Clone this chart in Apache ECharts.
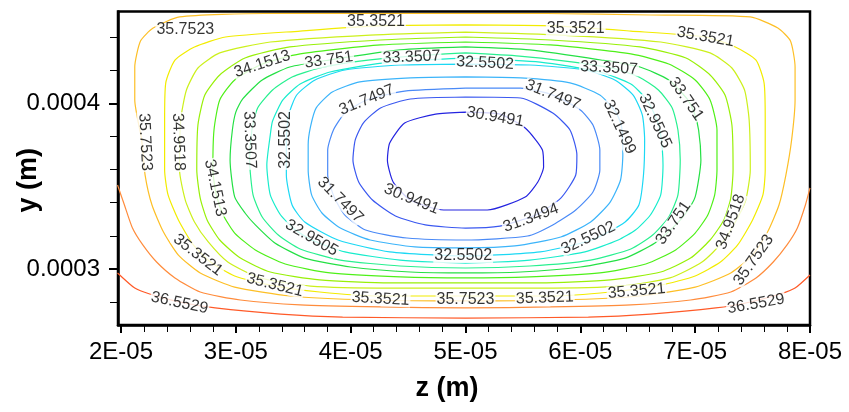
<!DOCTYPE html>
<html>
<head>
<meta charset="utf-8">
<style>html,body{margin:0;padding:0;background:#fff}#chart{width:849px;height:412px}</style>
<script src="https://cdn.jsdelivr.net/npm/echarts@6/dist/echarts.min.js"></script>
</head>
<body>
<div id="chart"></div>
<script>
// values stored in micrometres, converted to metres for the axes
const UM = 1e-6;

const xTickValues = [20, 30, 40, 50, 60, 70, 80];
const xTickLabels = ['2E-05', '3E-05', '4E-05', '5E-05', '6E-05', '7E-05', '8E-05'];
const xMinorTicks = [22,24,26,28,32,34,36,38,42,44,46,48,52,54,56,58,62,64,66,68,72,74,76,78];
const yTickValues = [300, 400];
const yTickLabels = ['0.0003', '0.0004'];
const yMinorTicks = [280, 320, 340, 360, 380, 420, 440];

const levels = [30.9491, 31.3494, 31.7497, 32.1499, 32.5502, 32.9505, 33.3507, 33.751, 34.1513, 34.5515, 34.9518, 35.3521, 35.7523, 36.1526, 36.5529];

// contour polylines [z (um), y (um)]
const c30_9491 = [[50.0,394.7],[53.0,393.5],[55.2,385.1],[56.7,371.8],[56.8,361.6],[56.3,352.5],[55.2,343.5],[51.9,335.6],[48.1,335.6],[45.2,341.6],[43.7,352.5],[43.2,365.8],[43.4,376.0],[44.7,388.1],[47.4,393.5],[50.0,394.7]];
const c31_3494 = [[50.0,403.8],[54.8,403.2],[57.6,394.1],[59.1,383.9],[59.7,368.8],[59.6,356.7],[58.3,342.8],[56.1,332.6],[53.0,325.9],[50.0,324.7],[46.5,326.6],[43.9,332.0],[41.9,341.6],[40.7,352.5],[40.2,365.8],[40.4,377.9],[41.1,388.1],[42.6,397.2],[45.2,402.6],[50.0,403.8]];
const c31_7497 = [[50.0,409.2],[54.8,409.2],[57.6,405.0],[60.0,396.0],[61.1,386.9],[61.7,371.8],[61.7,359.7],[61.1,346.5],[59.6,335.6],[57.6,326.6],[55.4,319.9],[50.0,317.5],[44.9,318.7],[41.3,323.5],[39.5,332.6],[38.6,342.8],[38.0,356.7],[38.0,371.8],[38.5,383.9],[39.5,394.1],[41.4,402.0],[44.7,407.4],[50.0,409.2]];
const c32_1499 = [[50.0,415.9],[54.8,415.3],[59.1,412.3],[61.7,405.0],[63.1,394.7],[63.6,385.7],[63.7,368.8],[63.5,353.7],[62.6,340.4],[60.9,328.4],[58.3,319.3],[54.3,313.9],[50.0,312.7],[45.6,313.3],[41.7,317.5],[39.1,324.7],[37.5,333.8],[36.6,344.7],[36.3,359.7],[36.3,374.8],[36.5,385.7],[37.0,397.2],[38.4,406.8],[40.8,412.9],[45.2,415.3],[50.0,415.9]];
const c32_5502 = [[50.0,423.7],[55.6,423.1],[60.4,420.1],[63.0,414.1],[64.6,405.0],[65.4,392.9],[65.6,377.9],[65.5,356.7],[65.1,338.6],[63.9,328.4],[61.0,317.5],[56.5,310.3],[50.0,307.8],[43.4,310.3],[38.9,317.5],[36.0,328.4],[34.9,338.6],[34.4,356.7],[34.4,377.9],[34.6,392.9],[35.3,405.0],[36.9,414.1],[39.5,420.1],[44.3,423.1],[50.0,423.7]];
const c32_9505 = [[50.0,427.3],[56.5,424.9],[61.7,418.9],[64.4,411.6],[65.8,402.0],[66.7,389.3],[67.0,380.9],[67.2,362.8],[67.0,344.7],[66.1,332.6],[64.8,323.5],[63.3,317.5],[60.4,310.3],[55.6,305.4],[50.0,303.6],[44.3,305.4],[39.5,310.3],[36.6,317.5],[35.2,323.5],[33.9,332.6],[33.0,344.7],[32.7,362.8],[33.0,380.9],[33.2,389.3],[34.1,402.0],[35.6,411.6],[38.2,418.9],[43.4,424.9],[50.0,427.3]];
const c33_3507 = [[50.0,430.4],[54.7,428.5],[58.7,425.5],[62.7,421.3],[65.1,415.9],[66.8,408.0],[68.0,397.2],[68.5,383.9],[68.7,365.8],[68.5,344.7],[67.7,331.4],[66.3,320.5],[64.4,312.1],[60.9,305.4],[55.6,301.8],[50.0,300.6],[44.3,301.8],[39.1,305.4],[35.6,312.1],[33.7,320.5],[32.3,331.4],[31.5,344.7],[31.2,365.8],[31.4,383.9],[31.9,397.2],[33.2,408.0],[34.9,415.9],[37.3,421.3],[40.8,425.5],[45.3,428.5],[50.0,430.4]];
const c33_751 = [[50.0,434.0],[55.6,432.2],[61.8,426.1],[65.2,421.9],[67.7,414.1],[69.3,402.6],[69.9,394.7],[70.3,383.9],[70.5,365.8],[70.0,343.5],[69.2,333.8],[68.3,326.6],[66.5,315.7],[63.9,306.6],[60.0,301.2],[54.8,298.2],[50.0,297.6],[45.2,298.2],[40.0,301.2],[36.0,306.6],[33.4,315.7],[31.7,326.6],[30.8,333.8],[29.9,343.5],[29.5,365.8],[29.7,383.9],[30.0,394.7],[30.6,402.6],[32.3,414.1],[34.7,421.9],[38.1,426.1],[44.3,432.2],[50.0,434.0]];
const c34_1513 = [[50.0,437.0],[57.4,435.2],[64.4,429.8],[67.7,423.7],[70.0,414.1],[71.3,402.0],[71.9,383.9],[71.9,359.7],[71.7,344.7],[71.1,332.6],[70.0,321.7],[68.3,311.5],[65.7,303.0],[61.7,297.6],[55.6,295.2],[50.0,294.6],[44.3,295.2],[38.2,297.6],[34.3,303.0],[31.7,311.5],[29.9,321.7],[28.9,332.6],[28.3,344.7],[28.0,359.7],[28.1,383.9],[28.6,402.0],[29.9,414.1],[32.3,423.7],[35.6,429.8],[42.6,435.2],[50.0,437.0]];
const c34_5515 = [[50.0,440.0],[57.4,438.2],[65.2,434.0],[69.2,427.3],[71.3,417.1],[72.6,405.0],[73.2,386.9],[73.3,359.7],[73.1,342.8],[72.5,329.6],[71.3,317.5],[69.6,306.6],[67.0,298.2],[62.6,293.4],[56.5,291.6],[50.0,291.6],[43.4,291.6],[37.3,293.4],[33.0,298.2],[30.4,306.6],[28.6,317.5],[27.5,329.6],[26.9,342.8],[26.6,359.7],[26.7,386.9],[27.3,405.0],[28.6,417.1],[30.8,427.3],[34.7,434.0],[42.6,438.2],[50.0,440.0]];
const c34_9518 = [[50.0,443.0],[58.3,441.2],[67.0,437.0],[71.3,430.4],[73.2,421.3],[74.3,408.0],[74.7,389.9],[74.8,359.7],[74.4,341.6],[73.5,328.4],[72.4,316.3],[70.6,304.2],[67.8,294.6],[63.5,289.7],[56.5,288.5],[50.0,288.5],[43.4,288.5],[36.5,289.7],[32.1,294.6],[29.3,304.2],[27.6,316.3],[26.4,328.4],[25.6,341.6],[25.1,359.7],[25.2,389.9],[25.7,408.0],[26.7,421.3],[28.6,430.4],[33.0,437.0],[41.7,441.2],[50.0,443.0]];
const c35_3521 = [[50.0,447.3],[57.7,446.7],[64.4,443.6],[70.9,440.0],[73.5,434.0],[75.3,426.1],[76.0,412.3],[76.1,389.9],[76.1,359.7],[75.9,344.7],[75.0,329.6],[73.7,314.5],[72.2,304.2],[70.0,295.8],[67.0,290.3],[62.6,286.1],[57.4,283.7],[50.0,283.7],[42.6,283.7],[37.3,286.1],[33.0,290.3],[29.9,295.8],[27.8,304.2],[26.3,314.5],[25.0,329.6],[24.1,344.7],[23.8,359.7],[23.8,389.9],[23.9,412.3],[24.7,426.1],[26.4,434.0],[29.1,440.0],[35.6,443.6],[42.2,446.7],[50.0,447.3]];
const c35_7523 = [[50.0,454.2],[57.1,454.2],[66.1,453.3],[74.8,452.1],[77.2,445.4],[78.3,437.6],[78.7,421.9],[78.7,402.0],[78.4,377.9],[77.9,356.7],[77.3,338.6],[76.3,322.3],[75.0,308.4],[73.1,297.6],[70.0,289.1],[65.2,283.7],[58.3,281.3],[50.0,280.7],[41.7,281.3],[34.7,283.7],[29.9,289.1],[26.9,297.6],[25.0,308.4],[23.7,322.3],[22.7,338.6],[22.1,356.7],[21.8,377.9],[21.2,402.0],[21.2,421.9],[21.7,437.6],[22.8,445.4],[25.1,452.1],[32.5,454.2],[42.6,454.2],[50.0,454.2]];
const c36_1526 = [[19.7,350.7],[20.3,338.6],[21.0,324.7],[21.9,314.5],[23.1,304.2],[24.7,294.6],[26.9,286.1],[30.4,281.3],[35.6,278.3],[42.6,277.1],[50.0,276.5],[57.4,277.1],[64.4,278.3],[69.6,281.3],[73.1,286.1],[75.3,294.6],[76.8,304.2],[78.0,314.5],[78.9,324.7],[79.6,338.6],[80.0,348.9]];
const c36_5529 = [[19.7,297.6],[21.2,288.5],[22.5,284.9],[25.1,280.1],[28.2,276.5],[33.9,272.8],[39.3,271.0],[50.0,270.4],[60.7,271.0],[66.1,272.8],[71.8,276.5],[74.8,280.1],[77.4,284.9],[78.7,288.5],[80.0,296.4]];

const contours = [c30_9491, c31_3494, c31_7497, c32_1499, c32_5502, c32_9505, c33_3507, c33_751, c34_1513, c34_5515, c34_9518, c35_3521, c35_7523, c36_1526, c36_5529];

// contour labels
const labelTexts = ["35.7523","35.3521","35.3521","35.3521","34.1513","33.751","33.3507","32.5502","33.3507","31.7497","30.9491","31.7497","32.1499","32.9505","33.751","35.7523","34.9518","33.3507","32.5502","34.1513","31.7497","30.9491","32.9505","35.3521","35.3521","35.3521","36.5529","32.5502","35.7523","31.3494","32.5502","33.751","34.9518","35.7523","35.3521","35.3521","36.5529"];
const labelZ = [25.6,42.2,59.6,70.9,32.3,38.1,45.3,51.7,62.5,41.4,52.6,57.6,63.4,66.5,69.2,22.1,25.0,31.2,34.3,28.2,39.1,45.3,36.6,26.7,33.4,42.6,25.1,49.8,50.0,55.7,60.7,68.1,73.1,75.1,56.9,64.9,75.3];
const labelY = [444.2,449.1,444.8,440.0,423.7,426.1,427.9,424.3,421.3,402.0,391.7,405.0,385.7,389.3,402.6,376.6,376.6,377.9,377.9,348.9,341.6,342.2,318.7,308.4,290.3,281.9,279.5,307.8,281.3,330.8,318.7,327.8,328.4,305.4,282.5,286.7,278.9];
const labelAngles = [0,0,0,-10,18,8,2,-3,-3,22,-10,-22,-65,-65,-55,-87,-88,-88,90,-78,-45,-22,-30,-38,-14,-3,-12,0,0,20,25,55,70,55,2,5,10];

const levelColors = ['#2424e0','#3a58f0','#4a8af7','#3cb4fa','#1cd8f4','#18eccc','#28f090','#24e044','#4ef018','#98f008','#ccf01c','#f2ec00','#fdbf26','#ff8c3c','#ff5a28'];

const X_MIN = 19.74, X_MAX = 80.0, Y_MIN = 266.2, Y_MAX = 455.4;
const FONT = 'Liberation Sans';

function pickLabel(values, labels) {
  return function (v) {
    for (let i = 0; i < values.length; i++) {
      if (Math.abs(values[i] * UM - v) < 1e-9) return labels[i];
    }
    return '';
  };
}

const series = contours.map((pts, i) => ({
  type: 'line',
  name: String(levels[i]),
  xAxisIndex: 0, yAxisIndex: 0,
  data: pts.map(p => [p[0] * UM, p[1] * UM]),
  showSymbol: false, symbol: 'none',
  smooth: 0.2,
  clip: true,
  silent: true,
  z: 2,
  lineStyle: { color: levelColors[i], width: 1.2 }
}));

series.push({
  type: 'scatter',
  xAxisIndex: 0, yAxisIndex: 0,
  symbolSize: 1,
  itemStyle: { color: 'rgba(0,0,0,0)' },
  silent: true,
  z: 5,
  data: labelTexts.map((t, i) => ({
    name: t,
    value: [labelZ[i] * UM, labelY[i] * UM],
    label: { rotate: labelAngles[i] }
  })),
  label: {
    show: true, position: 'inside', formatter: '{b}',
    color: '#000', fontFamily: FONT, fontSize: 16,
    backgroundColor: '#fff', padding: [0, 1], lineHeight: 14
  }
});

const axisBase = { type: 'value', splitLine: { show: false } };

const option = {
  animation: false,
  backgroundColor: '#fff',
  grid: { left: 118, right: 39, top: 11.5, bottom: 87, containLabel: false, outerBoundsMode: 'none', show: true, borderColor: '#000', borderWidth: 2.5, backgroundColor: '#fff' },
  xAxis: [
    Object.assign({}, axisBase, {
      min: X_MIN * UM, max: X_MAX * UM, position: 'bottom',
      name: 'z (m)', nameLocation: 'middle', nameGap: 50, nameMoveOverlap: false,
      nameTextStyle: { fontFamily: FONT, fontWeight: 'bold', fontSize: 27, color: '#000', padding: [0, 34, 0, 0] },
      axisLine: { show: true, lineStyle: { color: '#000', width: 2.5 } },
      axisTick: { show: true, customValues: xTickValues.map(v => v * UM), length: 8, lineStyle: { color: '#000', width: 2 } },
      axisLabel: { show: true, customValues: xTickValues.map(v => v * UM), formatter: pickLabel(xTickValues, xTickLabels), margin: 15, fontFamily: FONT, fontSize: 24, color: '#000' }
    }),
    Object.assign({}, axisBase, {
      min: X_MIN * UM, max: X_MAX * UM, position: 'bottom',
      axisLine: { show: false },
      axisTick: { show: true, customValues: xMinorTicks.map(v => v * UM), length: 7, lineStyle: { color: '#000', width: 1 } },
      axisLabel: { show: false }
    })
  ],
  yAxis: [
    Object.assign({}, axisBase, {
      min: Y_MIN * UM, max: Y_MAX * UM, position: 'left',
      name: 'y (m)', nameLocation: 'middle', nameGap: 76, nameMoveOverlap: false,
      nameTextStyle: { fontFamily: FONT, fontWeight: 'bold', fontSize: 27, color: '#000', padding: [0, 24, 0, 0] },
      axisLine: { show: true, lineStyle: { color: '#000', width: 2.5 } },
      axisTick: { show: true, customValues: yTickValues.map(v => v * UM), length: 9, lineStyle: { color: '#000', width: 2 } },
      axisLabel: { show: true, customValues: yTickValues.map(v => v * UM), formatter: pickLabel(yTickValues, yTickLabels), margin: 18, fontFamily: FONT, fontSize: 24, color: '#000' }
    }),
    Object.assign({}, axisBase, {
      min: Y_MIN * UM, max: Y_MAX * UM, position: 'left',
      axisLine: { show: false },
      axisTick: { show: true, customValues: yMinorTicks.map(v => v * UM), length: 8, lineStyle: { color: '#000', width: 1 } },
      axisLabel: { show: false }
    })
  ],
  series: series
};

const chart = echarts.init(document.getElementById('chart'), null, { renderer: 'canvas' });
chart.setOption(option);
</script>
</body>
</html>
